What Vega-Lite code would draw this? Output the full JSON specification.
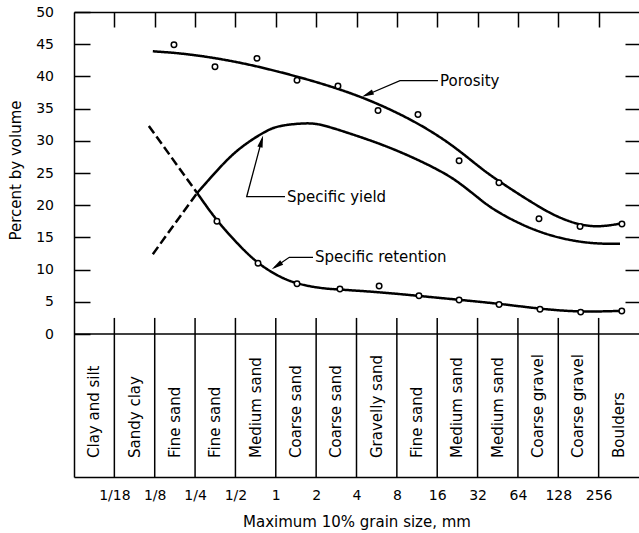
{
  "$schema": "https://vega.github.io/schema/vega-lite/v6.json",
  "width": 565,
  "height": 465,
  "autosize": {"type": "none"},
  "padding": {"left": 74, "top": 12, "right": 0, "bottom": 56},
  "background": "white",
  "config": {
    "view": {"stroke": null},
    "font": "DejaVu Sans",
    "axis": {
      "grid": false,
      "labelFont": "DejaVu Sans",
      "titleFont": "DejaVu Sans",
      "labelColor": "#000",
      "titleColor": "#000",
      "tickColor": "#000",
      "domainColor": "#000",
      "labelFontSize": 14,
      "titleFontSize": 15,
      "titleFontWeight": "normal",
      "tickWidth": 1.5,
      "domainWidth": 1.5
    }
  },
  "datasets": {
    "boundaries": [
      {"size": 0.0625}, {"size": 0.125}, {"size": 0.25}, {"size": 0.5}, {"size": 1}, {"size": 2}, {"size": 4},
      {"size": 8}, {"size": 16}, {"size": 32}, {"size": 64}, {"size": 128}, {"size": 256}
    ],
    "columns": [
      {"category": "Clay and silt", "size": 0.0442},
      {"category": "Sandy clay", "size": 0.0884},
      {"category": "Fine sand", "size": 0.177},
      {"category": "Fine sand", "size": 0.354},
      {"category": "Medium sand", "size": 0.707},
      {"category": "Coarse sand", "size": 1.41},
      {"category": "Coarse sand", "size": 2.83},
      {"category": "Gravelly sand", "size": 5.66},
      {"category": "Fine sand", "size": 11.3},
      {"category": "Medium sand", "size": 22.6},
      {"category": "Medium sand", "size": 45.3},
      {"category": "Coarse gravel", "size": 90.5},
      {"category": "Coarse gravel", "size": 181},
      {"category": "Boulders", "size": 362}
    ],
    "curves": [
      {"series": "Porosity", "part": "fitted", "size": 0.121, "percent": 43.9},
      {"series": "Porosity", "part": "fitted", "size": 0.229, "percent": 43.5},
      {"series": "Porosity", "part": "fitted", "size": 0.541, "percent": 42.2},
      {"series": "Porosity", "part": "fitted", "size": 1.075, "percent": 40.7},
      {"series": "Porosity", "part": "fitted", "size": 2.137, "percent": 39.0},
      {"series": "Porosity", "part": "fitted", "size": 4.47, "percent": 36.8},
      {"series": "Porosity", "part": "fitted", "size": 10.0, "percent": 33.5},
      {"series": "Porosity", "part": "fitted", "size": 19.9, "percent": 29.7},
      {"series": "Porosity", "part": "fitted", "size": 33.4, "percent": 25.8},
      {"series": "Porosity", "part": "fitted", "size": 47.0, "percent": 23.6},
      {"series": "Porosity", "part": "fitted", "size": 93.5, "percent": 19.6},
      {"series": "Porosity", "part": "fitted", "size": 131.9, "percent": 18.0},
      {"series": "Porosity", "part": "fitted", "size": 186, "percent": 16.9},
      {"series": "Porosity", "part": "fitted", "size": 262, "percent": 16.6},
      {"series": "Porosity", "part": "fitted", "size": 382, "percent": 17.2},
      {"series": "Specific yield", "part": "extrapolated", "size": 0.121, "percent": 12.4},
      {"series": "Specific yield", "part": "extrapolated", "size": 0.259, "percent": 21.9},
      {"series": "Specific yield", "part": "fitted", "size": 0.259, "percent": 21.9},
      {"series": "Specific yield", "part": "fitted", "size": 0.3645, "percent": 25.4},
      {"series": "Specific yield", "part": "fitted", "size": 0.514, "percent": 28.7},
      {"series": "Specific yield", "part": "fitted", "size": 0.86, "percent": 31.7},
      {"series": "Specific yield", "part": "fitted", "size": 1.075, "percent": 32.4},
      {"series": "Specific yield", "part": "fitted", "size": 1.709, "percent": 32.8},
      {"series": "Specific yield", "part": "fitted", "size": 2.137, "percent": 32.6},
      {"series": "Specific yield", "part": "fitted", "size": 3.172, "percent": 31.5},
      {"series": "Specific yield", "part": "fitted", "size": 7.489, "percent": 28.9},
      {"series": "Specific yield", "part": "fitted", "size": 17.67, "percent": 25.2},
      {"series": "Specific yield", "part": "fitted", "size": 23.67, "percent": 23.4},
      {"series": "Specific yield", "part": "fitted", "size": 31.69, "percent": 21.3},
      {"series": "Specific yield", "part": "fitted", "size": 41.7, "percent": 19.3},
      {"series": "Specific yield", "part": "fitted", "size": 74.8, "percent": 16.5},
      {"series": "Specific yield", "part": "fitted", "size": 131.9, "percent": 14.8},
      {"series": "Specific yield", "part": "fitted", "size": 232.3, "percent": 14.0},
      {"series": "Specific yield", "part": "fitted", "size": 369.4, "percent": 14.0},
      {"series": "Specific retention", "part": "extrapolated", "size": 0.113, "percent": 32.3},
      {"series": "Specific retention", "part": "extrapolated", "size": 0.259, "percent": 21.9},
      {"series": "Specific retention", "part": "fitted", "size": 0.259, "percent": 21.9},
      {"series": "Specific retention", "part": "fitted", "size": 0.3645, "percent": 17.5},
      {"series": "Specific retention", "part": "fitted", "size": 0.541, "percent": 13.6},
      {"series": "Specific retention", "part": "fitted", "size": 0.737, "percent": 10.9},
      {"series": "Specific retention", "part": "fitted", "size": 1.075, "percent": 8.8},
      {"series": "Specific retention", "part": "fitted", "size": 1.44, "percent": 7.8},
      {"series": "Specific retention", "part": "fitted", "size": 2.137, "percent": 7.1},
      {"series": "Specific retention", "part": "fitted", "size": 3.012, "percent": 6.9},
      {"series": "Specific retention", "part": "fitted", "size": 5.988, "percent": 6.5},
      {"series": "Specific retention", "part": "fitted", "size": 11.91, "percent": 5.9},
      {"series": "Specific retention", "part": "fitted", "size": 23.67, "percent": 5.3},
      {"series": "Specific retention", "part": "fitted", "size": 47.05, "percent": 4.7},
      {"series": "Specific retention", "part": "fitted", "size": 93.5, "percent": 3.9},
      {"series": "Specific retention", "part": "fitted", "size": 185.9, "percent": 3.4},
      {"series": "Specific retention", "part": "fitted", "size": 382.3, "percent": 3.6}
    ],
    "points": [
      {"series": "Porosity", "size": 0.174, "percent": 44.9},
      {"series": "Porosity", "size": 0.352, "percent": 41.5},
      {"series": "Porosity", "size": 0.724, "percent": 42.8},
      {"series": "Porosity", "size": 1.44, "percent": 39.4},
      {"series": "Porosity", "size": 2.91, "percent": 38.5},
      {"series": "Porosity", "size": 5.79, "percent": 34.7},
      {"series": "Porosity", "size": 11.5, "percent": 34.1},
      {"series": "Porosity", "size": 23.3, "percent": 26.9},
      {"series": "Porosity", "size": 46.2, "percent": 23.5},
      {"series": "Porosity", "size": 91.9, "percent": 17.9},
      {"series": "Porosity", "size": 186, "percent": 16.7},
      {"series": "Porosity", "size": 382, "percent": 17.1},
      {"series": "Specific retention", "size": 0.364, "percent": 17.5},
      {"series": "Specific retention", "size": 0.737, "percent": 11.0},
      {"series": "Specific retention", "size": 1.44, "percent": 7.8},
      {"series": "Specific retention", "size": 3.01, "percent": 7.0},
      {"series": "Specific retention", "size": 5.9, "percent": 7.45},
      {"series": "Specific retention", "size": 11.7, "percent": 5.95},
      {"series": "Specific retention", "size": 23.3, "percent": 5.3},
      {"series": "Specific retention", "size": 46.3, "percent": 4.6},
      {"series": "Specific retention", "size": 93.5, "percent": 3.85},
      {"series": "Specific retention", "size": 188, "percent": 3.4},
      {"series": "Specific retention", "size": 381, "percent": 3.57}
    ],
    "leaders": [
      {"label": "Porosity", "step": 1, "size": 16.2, "percent": 39.33},
      {"label": "Porosity", "step": 2, "size": 8.44, "percent": 39.33},
      {"label": "Porosity", "step": 3, "size": 4.6, "percent": 37.0},
      {"label": "Specific yield", "step": 1, "size": 1.171, "percent": 21.32},
      {"label": "Specific yield", "step": 2, "size": 0.6066, "percent": 21.32},
      {"label": "Specific yield", "step": 3, "size": 0.79, "percent": 30.3},
      {"label": "Specific retention", "step": 1, "size": 1.895, "percent": 11.91},
      {"label": "Specific retention", "step": 2, "size": 1.261, "percent": 11.91},
      {"label": "Specific retention", "step": 3, "size": 0.97, "percent": 10.3}
    ],
    "arrows": [
      {"label": "Porosity", "size": 4.83, "percent": 37.2},
      {"label": "Specific yield", "size": 0.7825, "percent": 29.92},
      {"label": "Specific retention", "size": 1.016, "percent": 10.57}
    ],
    "labels": [
      {"label": "Porosity", "size": 16.8, "percent": 39.3},
      {"label": "Specific yield", "size": 1.213, "percent": 21.3},
      {"label": "Specific retention", "size": 1.961, "percent": 12.0}
    ]
  },
  "layer": [
    {
      "data": {"name": "boundaries"},
      "mark": {"type": "rule", "stroke": "#000", "strokeWidth": 1.5},
      "encoding": {
        "x": {"field": "size", "type": "quantitative",
          "scale": {"type": "log", "base": 2, "domain": [0.03125, 512], "nice": false},
          "axis": {"orient": "top", "values": [0.0625, 0.125, 0.25, 0.5, 1, 2, 4, 8, 16, 32, 64, 128, 256],
            "tickSize": -15, "labels": false, "domain": true, "title": null}},
        "y": {"datum": -22.2, "scale": {"domain": [-22.2, 50], "nice": false, "zero": false}, "axis": null},
        "y2": {"datum": 2.5}
      }
    },
    {
      "data": {"values": [{"reference": "zero line"}]},
      "mark": {"type": "rule", "stroke": "#000", "strokeWidth": 1.5},
      "encoding": {
        "y": {"datum": 0, "scale": {"domain": [-22.2, 50], "nice": false, "zero": false}, "axis": null}
      }
    },
    {
      "data": {"name": "curves"},
      "mark": {"type": "line", "stroke": "#000", "strokeWidth": 2.5, "interpolate": "basis"},
      "encoding": {
        "x": {"field": "size", "type": "quantitative",
          "scale": {"type": "log", "base": 2, "domain": [0.03125, 512], "nice": false},
          "axis": {"orient": "bottom", "values": [0.0625, 0.125, 0.25, 0.5, 1, 2, 4, 8, 16, 32, 64, 128, 256],
            "ticks": false, "domain": true, "labelPadding": 11, "labelOverlap": false, "labelFlush": false,
            "labelExpr": "datum.value < 0.1 ? '1/18' : datum.value < 1 ? '1/' + round(1 / datum.value) : '' + round(datum.value)",
            "title": "Maximum 10% grain size, mm", "titleY": 37, "titleBaseline": "top"}},
        "y": {"field": "percent", "type": "quantitative",
          "scale": {"domain": [-22.2, 50], "nice": false, "zero": false},
          "axis": {"orient": "left", "values": [0, 5, 10, 15, 20, 25, 30, 35, 40, 45, 50],
            "tickSize": -16, "labelPadding": 36.5, "domain": true, "labelBaseline": "middle",
            "title": "Percent by volume", "titleX": -58.5, "titleY": 158, "titleBaseline": "middle"}},
        "detail": {"field": "series"},
        "strokeDash": {"field": "part", "type": "nominal",
          "scale": {"domain": ["fitted", "extrapolated"], "range": [[1, 0], [9, 4]]}, "legend": null}
      }
    },
    {
      "data": {"name": "leaders"},
      "mark": {"type": "line", "stroke": "#000", "strokeWidth": 1.3},
      "encoding": {
        "x": {"field": "size", "type": "quantitative",
          "scale": {"type": "log", "base": 2, "domain": [0.03125, 512], "nice": false}, "axis": null},
        "y": {"field": "percent", "type": "quantitative",
          "scale": {"domain": [-22.2, 50], "nice": false, "zero": false}, "axis": null},
        "detail": {"field": "label"},
        "order": {"field": "step"}
      }
    },
    {
      "data": {"name": "arrows"},
      "transform": [{"filter": "datum.label == 'Porosity'"}],
      "mark": {"type": "point", "shape": "M0,-1L0.45,1L-0.45,1Z", "filled": true, "fill": "#000", "strokeWidth": 0, "size": 144, "angle": 247, "opacity": 1},
      "encoding": {
        "x": {"field": "size", "type": "quantitative",
          "scale": {"type": "log", "base": 2, "domain": [0.03125, 512], "nice": false}, "axis": null},
        "y": {"field": "percent", "type": "quantitative",
          "scale": {"domain": [-22.2, 50], "nice": false, "zero": false}, "axis": null}
      }
    },
    {
      "data": {"name": "arrows"},
      "transform": [{"filter": "datum.label == 'Specific yield'"}],
      "mark": {"type": "point", "shape": "M0,-1L0.45,1L-0.45,1Z", "filled": true, "fill": "#000", "strokeWidth": 0, "size": 144, "angle": 15, "opacity": 1},
      "encoding": {
        "x": {"field": "size", "type": "quantitative",
          "scale": {"type": "log", "base": 2, "domain": [0.03125, 512], "nice": false}, "axis": null},
        "y": {"field": "percent", "type": "quantitative",
          "scale": {"domain": [-22.2, 50], "nice": false, "zero": false}, "axis": null}
      }
    },
    {
      "data": {"name": "arrows"},
      "transform": [{"filter": "datum.label == 'Specific retention'"}],
      "mark": {"type": "point", "shape": "M0,-1L0.45,1L-0.45,1Z", "filled": true, "fill": "#000", "strokeWidth": 0, "size": 144, "angle": 236, "opacity": 1},
      "encoding": {
        "x": {"field": "size", "type": "quantitative",
          "scale": {"type": "log", "base": 2, "domain": [0.03125, 512], "nice": false}, "axis": null},
        "y": {"field": "percent", "type": "quantitative",
          "scale": {"domain": [-22.2, 50], "nice": false, "zero": false}, "axis": null}
      }
    },
    {
      "data": {"name": "points"},
      "mark": {"type": "point", "shape": "circle", "size": 30, "filled": true, "fill": "white", "stroke": "#000", "strokeWidth": 1.5, "opacity": 1},
      "encoding": {
        "x": {"field": "size", "type": "quantitative",
          "scale": {"type": "log", "base": 2, "domain": [0.03125, 512], "nice": false}, "axis": null},
        "y": {"field": "percent", "type": "quantitative",
          "scale": {"domain": [-22.2, 50], "nice": false, "zero": false},
          "axis": {"orient": "right", "values": [5, 10, 15, 20, 25, 30, 35, 40, 45], "tickSize": -14,
            "labels": false, "domain": false, "title": null}}
      }
    },
    {
      "data": {"name": "labels"},
      "mark": {"type": "text", "align": "left", "baseline": "middle", "font": "DejaVu Sans", "fontSize": 15, "color": "#000"},
      "encoding": {
        "x": {"field": "size", "type": "quantitative",
          "scale": {"type": "log", "base": 2, "domain": [0.03125, 512], "nice": false}, "axis": null},
        "y": {"field": "percent", "type": "quantitative",
          "scale": {"domain": [-22.2, 50], "nice": false, "zero": false}, "axis": null},
        "text": {"field": "label"}
      }
    },
    {
      "data": {"name": "columns"},
      "mark": {"type": "text", "align": "left", "baseline": "middle", "angle": 270, "font": "DejaVu Sans", "fontSize": 15, "color": "#000"},
      "encoding": {
        "x": {"field": "size", "type": "quantitative",
          "scale": {"type": "log", "base": 2, "domain": [0.03125, 512], "nice": false}, "axis": null},
        "y": {"datum": -19.25, "scale": {"domain": [-22.2, 50], "nice": false, "zero": false}, "axis": null},
        "text": {"field": "category"}
      }
    }
  ],
  "resolve": {"axis": {"x": "independent", "y": "independent"}}
}
